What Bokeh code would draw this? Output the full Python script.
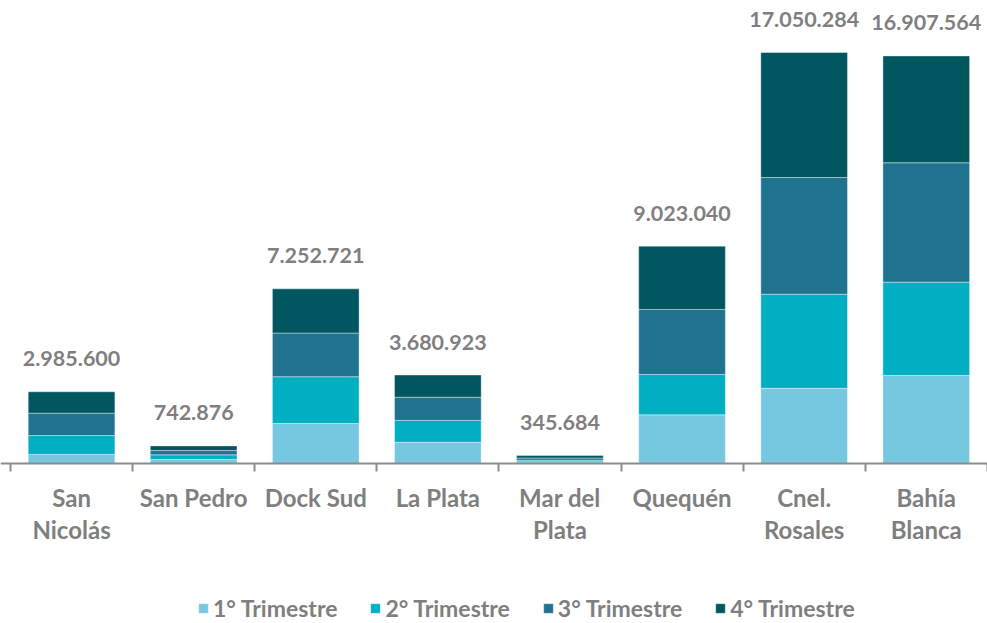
from bokeh.plotting import figure
from bokeh.models import ColumnDataSource, Range1d, FixedTicker, LinearAxis, Legend, LegendItem
from bokeh.core.properties import value
from bokeh.embed import file_html
from bokeh.resources import INLINE

# ---- data ----
ports = ["San\nNicolás", "San Pedro", "Dock Sud", "La Plata", "Mar del\nPlata",
         "Quequén", "Cnel.\nRosales", "Bahía\nBlanca"]
q1 = [390000, 180000, 1670000, 890000, 80000, 2030000, 3130000, 3660000]
q2 = [780000, 190000, 1940000, 910000, 70000, 1670000, 3900000, 3870000]
q3 = [930000, 180000, 1810000, 960000, 90000, 2700000, 4840000, 4950000]
q4 = [885600, 192876, 1832721, 920923, 105684, 2623040, 5180284, 4427564]
totals = [2985600, 742876, 7252721, 3680923, 345684, 9023040, 17050284, 16907564]
series = ["1° Trimestre", "2° Trimestre", "3° Trimestre", "4° Trimestre"]
colors = ["#76C8E1", "#00AFC2", "#1F738E", "#01575F"]

FONT = "Lato"
GRAY = "#7f7f7f"

n = len(ports)
xc = [i + 0.5 for i in range(n)]
src = ColumnDataSource(dict(x=xc, q1=q1, q2=q2, q3=q3, q4=q4,
                            total=totals,
                            label=[f"{t:,}".replace(",", ".") for t in totals]))

W, H = 987, 623
px_per_unit = 411.3 / 17050284.0
px_per_cat = 122.1
x0 = -10 / px_per_cat
p = figure(width=W, height=H, output_backend="svg", toolbar_location=None,
           x_range=Range1d(x0, x0 + W / px_per_cat),
           y_range=Range1d(-(H - 463.3) / px_per_unit, 463.3 / px_per_unit),
           x_axis_location=None, y_axis_location=None,
           min_border=0, outline_line_color=None)
p.grid.visible = False
p.background_fill_color = "white"
p.border_fill_color = "white"

rs = p.vbar_stack(["q1", "q2", "q3", "q4"], x="x", width=0.71, source=src,
                  color=colors, line_color="white", line_width=0.4)

p.text(x="x", y="total", text="label", source=src, text_align="center",
       text_baseline="alphabetic", y_offset=-33, text_color=GRAY,
       text_font=value(FONT), text_font_style="bold", text_font_size="21.5px")

ax = LinearAxis(fixed_location=0)
ax.ticker = FixedTicker(ticks=xc, minor_ticks=list(range(n + 1)))
ax.major_label_overrides = {x: lab for x, lab in zip(xc, ports)}
ax.axis_line_color = "#8c8c8c"
ax.axis_line_width = 2
ax.major_tick_out = 0
ax.major_tick_in = 0
ax.minor_tick_out = 8
ax.minor_tick_in = 0
ax.minor_tick_line_color = "#8c8c8c"
ax.minor_tick_line_width = 2
ax.major_label_standoff = 11
ax.major_label_text_font = FONT
ax.major_label_text_font_style = "bold"
ax.major_label_text_font_size = "24px"
ax.major_label_text_color = GRAY
ax.major_label_text_line_height = 1.12
p.add_layout(ax, "below")

legend = Legend(items=[LegendItem(label=s, renderers=[r]) for s, r in zip(series, rs)],
                location=(197, 1), orientation="horizontal",
                border_line_color=None, background_fill_alpha=0,
                label_text_font=FONT, label_text_font_style="bold",
                label_text_font_size="23px", label_text_color=GRAY,
                glyph_width=12, glyph_height=12, label_standoff=4,
                spacing=32, margin=0, padding=0)
p.add_layout(legend)

open("out.html", "w").write(file_html(p, INLINE))
